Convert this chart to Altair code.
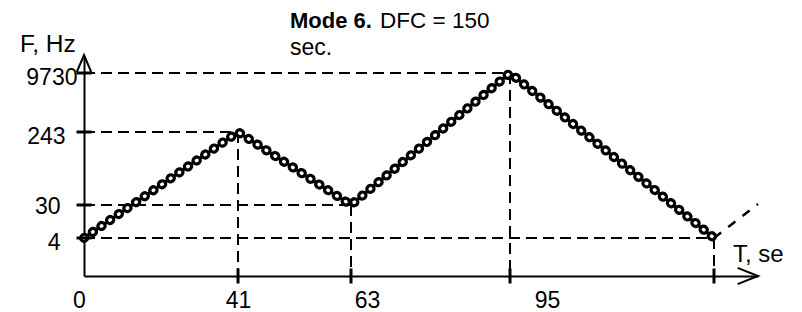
import altair as alt
import pandas as pd

# ---- data ----
T = [0, 41, 63, 95, 140]          # time of each turning point
F = [4, 243, 30, 9730, 4]         # frequency at each turning point
cont_T = [140, 150]               # start of the next (dashed) sweep
cont_F = [4, 33]
x_label_values = [0, 41, 63, 95]
x_tick_values = [41, 63, 95, 140]
y_label_values = [4, 30, 243, 9730]
axis_end_T = [150]
axis_end_F = [12000]

title_bold = ["Mode 6."]
title_rest = ["DFC = 150"]
title_line2 = ["sec."]
y_title = ["F, Hz"]
x_title = ["T, se"]

# ---- schematic (piecewise) scales ----
xs = alt.Scale(domain=[0, 41, 63, 95, 140, 150], range=[0, 154, 267, 426, 630, 674],
               zero=False, nice=False)
ys = alt.Scale(domain=[0, 4, 30, 243, 9730, 12000], range=[226, 188, 155, 82, 23, 5],
               zero=False, nice=False)

FONT = "Liberation Sans"

xax = alt.Axis(values=x_label_values, title=None, grid=False, ticks=False, tickSize=0,
               format="d",
               domainColor="black", domainWidth=2, labelFont=FONT, labelFontSize=23,
               labelColor="black", labelBaseline="alphabetic", labelPadding=31,
               labelFlush=False, labelOverlap=False, labelBound=False,
               labelOffset={"expr": "datum.value == 95 ? 37 : datum.value == 63 ? 16 : datum.value == 0 ? -5 : 0"})
yax = alt.Axis(values=y_label_values, title=None, grid=False, ticks=False, tickSize=0,
               format="d",
               domainColor="black", domainWidth=2, labelFont=FONT, labelFontSize=23,
               labelColor="black", labelBaseline="alphabetic", labelAlign="right",
               labelOverlap=False, labelBound=False, labelFlush=False,
               labelPadding={"expr": "datum.value == 9730 ? 7 : datum.value == 243 ? 19 : 24"},
               labelOffset={"expr": "datum.value == 30 ? 8 : 11.5"})

def X(field):
    return alt.X(field, type="quantitative", scale=xs, axis=xax)

def Y(field):
    return alt.Y(field, type="quantitative", scale=ys, axis=yax)

pts = pd.DataFrame({"T": T, "F": F, "i": list(range(len(T)))})
guides = pd.DataFrame({"T": T[1:], "F": F[1:]})
cont = pd.DataFrame({"T": cont_T, "F": cont_F})

dash = [11, 6]

h_guides = alt.Chart(guides).transform_calculate(zero="0").mark_rule(
    color="black", strokeWidth=2, strokeDash=dash
).encode(x=X("zero"), x2="T", y=Y("F"))

v_guides = alt.Chart(guides).transform_calculate(zero="0").mark_rule(
    color="black", strokeWidth=2, strokeDash=dash
).encode(x=X("T"), y=Y("F"), y2="zero")

core = alt.Chart(pts).mark_line(color="black", strokeWidth=3).encode(
    x=X("T"), y=Y("F"), order="i:Q")
beads = alt.Chart(pts).mark_line(color="black", strokeWidth=10, strokeDash=[0.5, 10],
                                 strokeCap="round").encode(x=X("T"), y=Y("F"), order="i:Q")
holes = alt.Chart(pts).mark_line(color="white", strokeWidth=3.5, strokeDash=[0.5, 10],
                                 strokeCap="round").encode(x=X("T"), y=Y("F"), order="i:Q")

cont_line = alt.Chart(cont).mark_line(color="black", strokeWidth=2.5, strokeDash=[9, 9]).encode(
    x=X("T"), y=Y("F"))

xticks = alt.Chart(pd.DataFrame({"T": x_tick_values})).mark_tick(
    orient="vertical", size=15, thickness=3, color="black", opacity=1
).encode(x=X("T"), y=alt.Y(datum=0, type="quantitative", scale=ys, axis=yax))

yticks = alt.Chart(pd.DataFrame({"F": y_label_values})).mark_tick(
    orient="horizontal", size=15, thickness=3, color="black", opacity=1
).encode(y=Y("F"), x=alt.X(datum=0, type="quantitative", scale=xs, axis=xax))

y_arrow = alt.Chart(pd.DataFrame({"T": [0], "F": axis_end_F})).mark_point(
    shape="M-0.85,2L0,0L0.85,2", size=289, filled=False, color="black", strokeWidth=2, opacity=1
).encode(x=X("T"), y=Y("F"))

x_arrow = alt.Chart(pd.DataFrame({"T": axis_end_T, "F": [0]})).mark_point(
    shape="M-2.4,-0.95L0,0L-2.4,0.95", size=289, filled=False, color="black", strokeWidth=2, opacity=1
).encode(x=X("T"), y=Y("F"))

def label(texts, px, py, bold=False, size=23):
    return alt.Chart(pd.DataFrame({"t": texts})).mark_text(
        align="left", baseline="alphabetic", font=FONT, fontSize=size,
        fontWeight="bold" if bold else "normal", color="black"
    ).encode(text="t:N", x=alt.value(px), y=alt.value(py))

texts = [
    label(title_bold, 206, -22, bold=True, size=22),
    label(title_rest, 296, -22, size=22.5),
    label(title_line2, 206, 5),
    label(y_title, -64, 2, size=24.5),
    label(x_title, 649, 212, size=24),
]

chart = alt.layer(
    h_guides, v_guides, core, beads, holes, cont_line, xticks, yticks, y_arrow, x_arrow, *texts
).properties(
    width=680, height=226,
    autosize=alt.AutoSizeParams(type="none"),
    padding={"left": 76, "top": 42, "right": 30, "bottom": 36},
    background="white",
).configure_view(stroke=None)

chart.save("out.html", embed_options={"renderer": "svg", "actions": False})
